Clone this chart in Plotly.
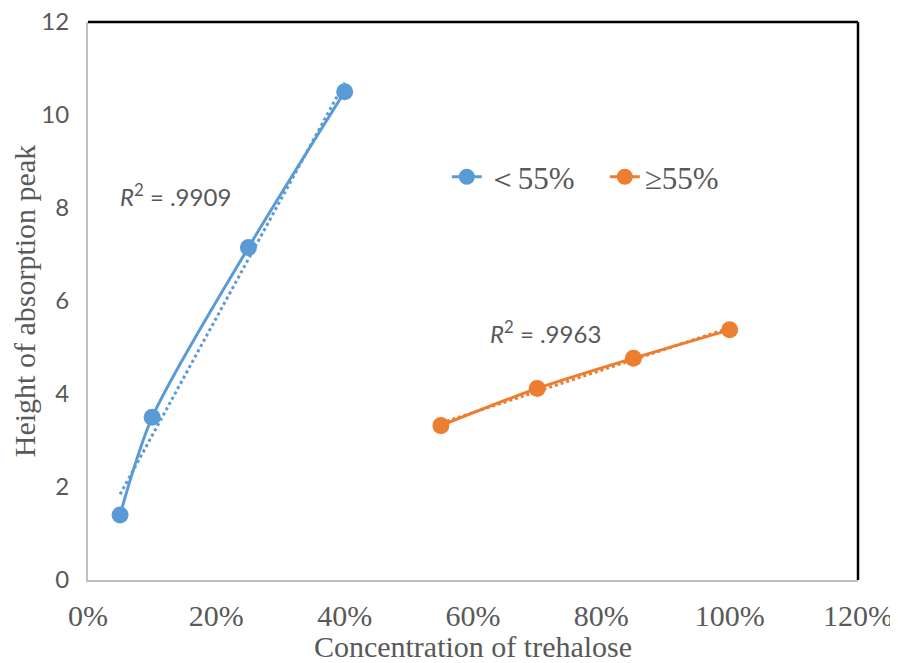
import numpy as np
import plotly.graph_objects as go

# Data
low_x = [0.05, 0.10, 0.25, 0.40]
low_y = [1.40, 3.50, 7.15, 10.50]
high_x = [0.55, 0.70, 0.85, 1.00]
high_y = [3.32, 4.12, 4.77, 5.38]
series_names = ["＜55%", "≥55%"]
r2_labels = ["<i>R</i><sup>2</sup> = .9909", "<i>R</i><sup>2</sup> = .9963"]
x_ticks = [0, 0.2, 0.4, 0.6, 0.8, 1.0, 1.2]
y_ticks = [0, 2, 4, 6, 8, 10, 12]

BLUE = "#5B9BD5"
ORANGE = "#ED7D31"
GRAY = "#595959"

fig = go.Figure()


def add_series(xs, ys, name, color):
    fig.add_trace(go.Scatter(
        x=xs, y=ys, name=name, mode="lines+markers",
        line=dict(color=color, width=3, shape="spline", smoothing=0.8),
        marker=dict(color=color, size=17),
    ))
    k, b = np.polyfit(xs, ys, 1)
    tx = [xs[0], xs[-1]]
    fig.add_trace(go.Scatter(
        x=tx, y=[k * v + b for v in tx], mode="lines", showlegend=False,
        line=dict(color=color, width=3, dash="dot"), hoverinfo="skip",
    ))


add_series(low_x, low_y, series_names[0], BLUE)
add_series(high_x, high_y, series_names[1], ORANGE)

fig.add_annotation(x=0.046, y=8.27, text=r2_labels[0], showarrow=False,
                   xanchor="left", font=dict(family="Lato", size=24, color=GRAY))
fig.add_annotation(x=0.624, y=5.33, text=r2_labels[1], showarrow=False,
                   xanchor="left", font=dict(family="Lato", size=24, color=GRAY))

# top and right black frame
fig.add_shape(type="line", xref="paper", yref="paper", x0=0, x1=1, y0=1, y1=1,
              line=dict(color="black", width=2.5))
fig.add_shape(type="line", xref="paper", yref="paper", x0=1, x1=1, y0=0, y1=1,
              line=dict(color="black", width=2.5))

fig.update_layout(
    width=890, height=655,
    margin=dict(l=80, r=40, t=14, b=83),
    paper_bgcolor="white", plot_bgcolor="white",
    showlegend=True,
    legend=dict(orientation="h", x=0.466, y=0.722, xanchor="left", yanchor="middle",
                font=dict(family="Liberation Serif", size=31, color=GRAY),
                bgcolor="rgba(0,0,0,0)", entrywidth=113, entrywidthmode="pixels",
                tracegroupgap=0),
    xaxis=dict(range=[0, 1.2], tickvals=x_ticks, tickformat=".0%", automargin=False,
               showgrid=False, zeroline=False, showline=True, linecolor="#BFBFBF",
               linewidth=2, ticks="", ticklabelstandoff=8, ticklabeloverflow="allow",
               tickfont=dict(family="Liberation Serif", size=30, color=GRAY),
               title=dict(text="Concentration of trehalose", standoff=6,
                          font=dict(family="Liberation Serif", size=30, color=GRAY))),
    yaxis=dict(range=[0, 12], tickvals=y_ticks, automargin=False,
               showgrid=False, zeroline=False, showline=True, linecolor="#BFBFBF",
               linewidth=2, ticks="", ticklabelstandoff=12, ticklabeloverflow="allow",
               tickfont=dict(family="Lato", size=24, color=GRAY),
               title=dict(text="Height of absorption peak", standoff=10,
                          font=dict(family="Liberation Serif", size=30, color=GRAY))),
)

fig.write_html("out.html")
